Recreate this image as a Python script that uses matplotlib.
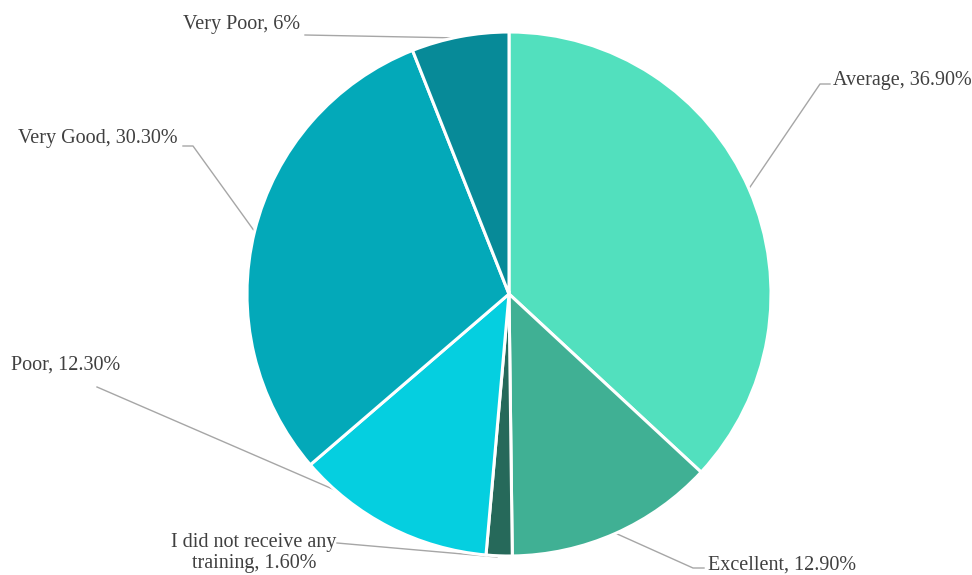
import matplotlib
matplotlib.use("Agg")
import matplotlib.pyplot as plt

categories = ["Average", "Excellent", "I did not receive any\ntraining", "Poor", "Very Good", "Very Poor"]
values = [36.9, 12.9, 1.6, 12.3, 30.3, 6.0]
value_labels = ["36.90%", "12.90%", "1.60%", "12.30%", "30.30%", "6%"]
colors = ["#52E0BE", "#40B094", "#26695A", "#05CFE0", "#03A9B9", "#078A98"]

W, H = 972, 575
fig = plt.figure(figsize=(W / 100, H / 100), dpi=100)
ax = fig.add_axes([0, 0, 1, 1])

cx, cy, r = 509, H - 294, 262
ax.pie(values, colors=colors, startangle=90, counterclock=False,
       center=(cx, cy), radius=r, frame=True,
       wedgeprops=dict(edgecolor="white", linewidth=2.2))
ax.set_xlim(0, W)
ax.set_ylim(0, H)
ax.set_aspect("equal")
ax.axis("off")

font = dict(family=["Liberation Serif", "DejaVu Serif"], size=14.5, color="#404040")
lc = "#A6A6A6"

def y(v):
    return H - v

labels = [
    (f"{categories[0]}, {value_labels[0]}", 833, 80, "left", [(748, 190), (820, 84), (830, 84)]),
    (f"{categories[1]}, {value_labels[1]}", 708, 565, "left", [(615, 533), (693, 568), (704, 568)]),
    (f"{categories[2]}, {value_labels[2]}", 254, 553, "center", [(497, 557), (337, 543)]),
    (f"{categories[3]}, {value_labels[3]}", 11, 365, "left", [(335, 490), (97, 387)]),
    (f"{categories[4]}, {value_labels[4]}", 18, 139, "left", [(255, 232), (193, 146), (183, 146)]),
    (f"{categories[5]}, {value_labels[5]}", 183, 25, "left", [(460, 38), (305, 35)]),
]
for text, tx, ty, ha, pts in labels:
    ax.plot([p[0] for p in pts], [y(p[1]) for p in pts], color=lc, lw=1.0, zorder=0)
    ax.text(tx, y(ty), text, ha=ha, va="center", linespacing=1.1, **font)

fig.savefig("out.png", dpi=100)
